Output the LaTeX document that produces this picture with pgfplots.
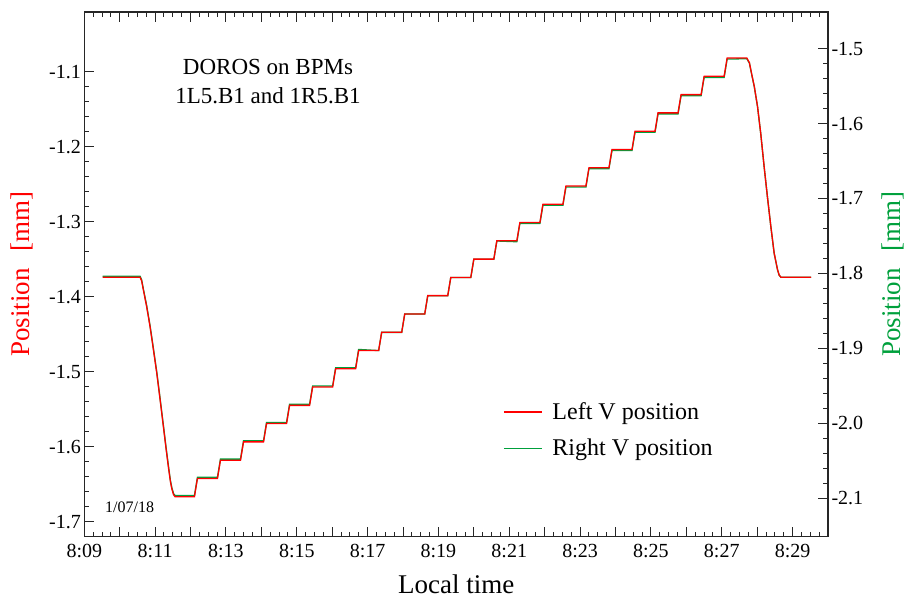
\documentclass[border=0pt]{standalone}
\usepackage{fontspec}
\setmainfont{Liberation Serif}
\usepackage{pgfplots}
\usepackage{pgfplotstable}
\pgfplotsset{compat=1.18}

\definecolor{dgreen}{RGB}{0,160,60}

% t = minutes after 8:00, L = left V position, R = right V position [mm]
\pgfplotstableread{
t L R
9.52 -1.3740 -1.8037
10.575 -1.3740 -1.8037
10.62 -1.3790 -1.8087
10.668 -1.3910 -1.8207
10.76 -1.4130 -1.8427
10.857 -1.4400 -1.8697
10.95 -1.4700 -1.8997
11.047 -1.5020 -1.9317
11.14 -1.5370 -1.9667
11.233 -1.5730 -2.0027
11.31 -1.6030 -2.0327
11.375 -1.6270 -2.0567
11.43 -1.6460 -2.0757
11.471 -1.6560 -2.0857
11.52 -1.6640 -2.0937
11.564 -1.6667 -2.0964
12.110 -1.6667 -2.0964
12.195 -1.6423 -2.0720
12.760 -1.6423 -2.0720
12.845 -1.6180 -2.0477
13.411 -1.6180 -2.0477
13.496 -1.5936 -2.0233
14.061 -1.5936 -2.0233
14.146 -1.5692 -1.9989
14.711 -1.5692 -1.9989
14.796 -1.5449 -1.9746
15.362 -1.5449 -1.9746
15.447 -1.5205 -1.9502
16.012 -1.5205 -1.9502
16.097 -1.4961 -1.9258
16.662 -1.4961 -1.9258
16.747 -1.4717 -1.9014
17.312 -1.4717 -1.9029
17.397 -1.4474 -1.8786
17.963 -1.4474 -1.8786
18.048 -1.4230 -1.8542
18.613 -1.4230 -1.8542
18.698 -1.3986 -1.8298
19.263 -1.3986 -1.8298
19.348 -1.3743 -1.8055
19.914 -1.3743 -1.8055
19.999 -1.3499 -1.7811
20.564 -1.3499 -1.7811
20.649 -1.3255 -1.7567
21.214 -1.3255 -1.7577
21.299 -1.3012 -1.7334
21.865 -1.3012 -1.7334
21.950 -1.2768 -1.7090
22.515 -1.2768 -1.7090
22.600 -1.2524 -1.6846
23.165 -1.2524 -1.6846
23.250 -1.2281 -1.6603
23.815 -1.2281 -1.6603
23.900 -1.2037 -1.6359
24.466 -1.2037 -1.6359
24.551 -1.1793 -1.6115
25.116 -1.1793 -1.6115
25.201 -1.1549 -1.5871
25.766 -1.1549 -1.5871
25.851 -1.1306 -1.5628
26.417 -1.1306 -1.5628
26.502 -1.1062 -1.5384
27.067 -1.1062 -1.5384
27.152 -1.0818 -1.5140
27.708 -1.0818 -1.5135
27.78 -1.0880 -1.5192
27.84 -1.1020 -1.5332
27.92 -1.1200 -1.5512
28.011 -1.1467 -1.5779
28.10 -1.1820 -1.6132
28.197 -1.2267 -1.6579
28.29 -1.2670 -1.6982
28.387 -1.3067 -1.7379
28.48 -1.3420 -1.7732
28.575 -1.3640 -1.7952
28.62 -1.3710 -1.8022
28.67 -1.3740 -1.8052
29.52 -1.3740 -1.8052
}\dorostable

\pgfplotsset{
  doros/.style={
    scale only axis,
    width=743.7pt, height=524.7pt,
    xmin=9, xmax=30,
    tick align=inside,
    major tick length=10pt, minor tick length=5pt,
    axis line style={line width=1.1pt, black!85},
    every tick/.style={line width=1pt, black!85},
    ticklabel style={font=\fontsize{20}{23}\selectfont},
    minor y tick num=4,
  }
}

\begin{document}
\begin{tikzpicture}
\useasboundingbox (-84.3pt,-62.3pt) rectangle (821.7pt,536.7pt);

% right axis: right V position
\begin{axis}[doros,
    hide x axis,
    ymin=-2.1512, ymax=-1.4512,
    ytick pos=right, yticklabel pos=right,
    ytick={-2.1,-2.0,-1.9,-1.8,-1.7,-1.6,-1.5},
    yticklabels={-2.1,-2.0,-1.9,-1.8,-1.7,-1.6,-1.5},
    ylabel={Position\hspace{0.6em}[mm]},
    ylabel style={dgreen, font=\fontsize{27}{30}\selectfont,
      at={(axis description cs:1.0874,0.5)}, anchor=center},
]
\addplot[dgreen, line width=1.3pt] table[x=t, y=R] {\dorostable};
\end{axis}

% left axis: left V position
\begin{axis}[doros,
    ymin=-1.72, ymax=-1.0204,
    ytick pos=left,
    ytick={-1.7,-1.6,-1.5,-1.4,-1.3,-1.2,-1.1},
    yticklabels={-1.7,-1.6,-1.5,-1.4,-1.3,-1.2,-1.1},
    xtick={9,10,...,30},
    xticklabels={8:09,,8:11,,8:13,,8:15,,8:17,,8:19,,8:21,,8:23,,8:25,,8:27,,8:29,},
    xticklabel style={yshift=-4pt},
    minor x tick num=3,
    xlabel={Local time},
    xlabel style={font=\fontsize{27}{30}\selectfont,
      at={(axis description cs:0.5,0)}, anchor=base, yshift=-57pt},
    ylabel={Position\hspace{0.6em}[mm]},
    ylabel style={red, font=\fontsize{27}{30}\selectfont,
      at={(axis description cs:-0.0834,0.5)}, anchor=center},
    legend style={draw=none, fill=none, at={(axis description cs:0.559,0.263)},
      anchor=north west, font=\fontsize{24}{28}\selectfont, row sep=14pt},
    legend cell align=left,
    legend image code/.code={\draw[#1, line width=1.2pt] (0pt,0pt) -- (38pt,0pt);
      \path (46pt,0pt);},
]
\addplot[red, line width=1.3pt] table[x=t, y=L] {\dorostable};
\addlegendentry{Left V position}
\addlegendimage{dgreen, line width=1.3pt}
\addlegendentry{Right V position}

\node[anchor=base, font=\fontsize{23}{28}\selectfont] at (axis description cs:0.247,0.8813) {DOROS on BPMs};
\node[anchor=base, font=\fontsize{23}{28}\selectfont] at (axis description cs:0.247,0.826) {1L5.B1 and 1R5.B1};
\node[anchor=base west, font=\fontsize{16}{19}\selectfont, inner sep=0pt] at (axis description cs:0.0278,0.0452) {1/07/18};
\end{axis}
\end{tikzpicture}
\end{document}
